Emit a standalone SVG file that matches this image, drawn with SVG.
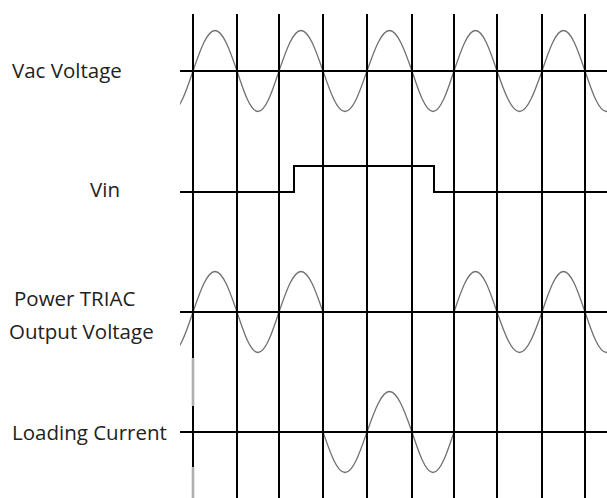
<svg xmlns="http://www.w3.org/2000/svg" xmlns:xlink="http://www.w3.org/1999/xlink" width="607" height="498" viewBox="0 0 607 498">
<style>
.lbl{font-family:"Open Sans","Noto Sans","Liberation Sans",sans-serif;font-size:20.5px;fill:#222}
.ax{stroke:#000;stroke-width:2;fill:none}
.grid{stroke:#000;stroke-width:2}
.wave{stroke:#707070;stroke-width:1.3;fill:none}
.ghost{stroke:#b0b0b0;stroke-width:2.6}
</style>
<defs>
<clipPath id="clip"><rect x="180" y="0" width="427" height="498"/></clipPath>
<path id="segA" d="M150,0 C157,20.75 163.7,40.5 171.5,40.5 C179.3,40.5 186,20.75 193,0 C200.2,-20.75 207,-40.5 215,-40.5 C223,-40.5 229.8,-20.75 237,0 C243.85,20.75 250.4,40.5 258,40.5 C265.6,40.5 272.15,20.75 279,0 C286.2,-20.75 293,-40.5 301,-40.5 C309,-40.5 315.8,-20.75 323,0"/>
<path id="segB" d="M323,0 C330.2,20.75 337,40.5 345,40.5 C353,40.5 359.8,20.75 367,0 C374.3,-20.75 381.4,-40.5 389.5,-40.5 C397.6,-40.5 404.7,-20.75 412,0 C418.85,20.75 425.4,40.5 433,40.5 C440.6,40.5 447.15,20.75 454,0"/>
<path id="segC" d="M454,0 C461,-20.75 467.7,-40.5 475.5,-40.5 C483.3,-40.5 490,-20.75 497,0 C504.3,20.75 511.4,40.5 519.5,40.5 C527.6,40.5 534.7,20.75 542,0 C549,-20.75 555.7,-40.5 563.5,-40.5 C571.3,-40.5 578,-20.75 585,0 C592,20.75 598.7,40.5 606.5,40.5 C614.3,40.5 621,20.75 628,0"/>
</defs>
<rect width="607" height="498" fill="#fff"/>
<g id="waves" class="wave" clip-path="url(#clip)">
<g id="vac-wave" transform="translate(0,71)"><use xlink:href="#segA" href="#segA"/><use xlink:href="#segB" href="#segB"/><use xlink:href="#segC" href="#segC"/></g>
<g id="triac-wave" transform="translate(0,312)"><use xlink:href="#segA" href="#segA"/><use xlink:href="#segC" href="#segC"/></g>
<g id="load-wave" transform="translate(0,432)"><use xlink:href="#segB" href="#segB"/></g>
</g>
<g id="gridlines" class="grid">
<line x1="193" y1="14" x2="193" y2="498"/>
<line x1="237" y1="14" x2="237" y2="498"/>
<line x1="279" y1="14" x2="279" y2="498"/>
<line x1="323" y1="14" x2="323" y2="498"/>
<line x1="367" y1="14" x2="367" y2="498"/>
<line x1="412" y1="14" x2="412" y2="498"/>
<line x1="454" y1="14" x2="454" y2="498"/>
<line x1="497" y1="14" x2="497" y2="498"/>
<line x1="542" y1="14" x2="542" y2="498"/>
<line x1="585" y1="14" x2="585" y2="498"/>
</g>
<g id="ghost" class="ghost">
<line x1="193" y1="358" x2="193" y2="406"/>
<line x1="193" y1="467" x2="193" y2="498"/>
</g>
<g id="axes" class="ax">
<line x1="180" y1="71" x2="607" y2="71"/>
<path d="M180,192 H294 V166 H434 V192 H607"/>
<line x1="180" y1="312" x2="607" y2="312"/>
<line x1="180" y1="432" x2="607" y2="432"/>
</g>
<g id="labels">
<text class="lbl" x="12" y="78">Vac Voltage</text>
<text class="lbl" x="90" y="197">Vin</text>
<text class="lbl" x="14" y="306">Power TRIAC</text>
<text class="lbl" x="9" y="338.5">Output Voltage</text>
<text class="lbl" x="12" y="440">Loading Current</text>
</g>
</svg>
